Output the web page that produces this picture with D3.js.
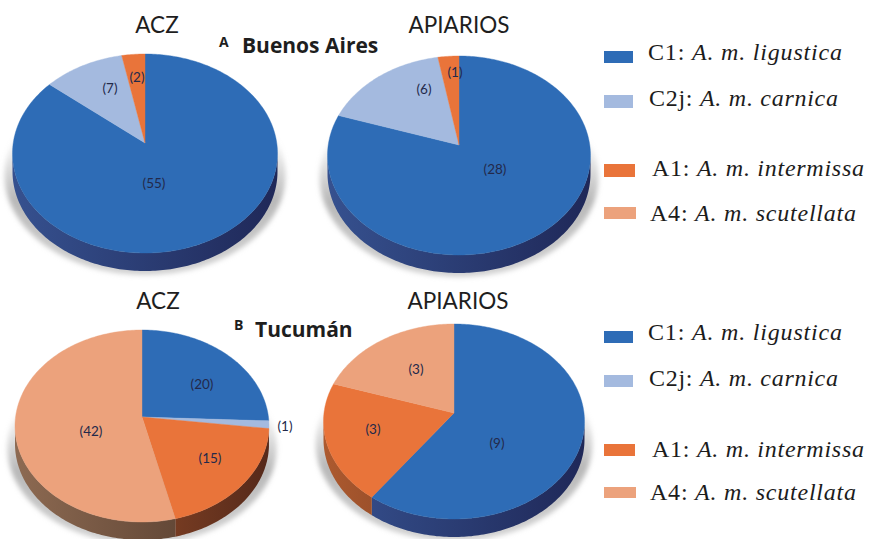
<!DOCTYPE html>
<html>
<head>
<meta charset="utf-8">
<script src="https://cdnjs.cloudflare.com/ajax/libs/d3/7.8.5/d3.min.js"></script>
<style>
  html, body { margin: 0; padding: 0; background: #fff; }
  svg { display: block; }
</style>
</head>
<body>
<svg id="chart" width="870" height="539"></svg>
<script>
// Mitochondrial lineages of honey bee samples, by province and source.
const lineages = ["C1", "C2j", "A1", "A4"];
const subspecies = ["A. m. ligustica", "A. m. carnica", "A. m. intermissa", "A. m. scutellata"];
const topColors = ["#2e6cb6", "#a4badf", "#e9743a", "#eca27c"];
const sideLight = ["#36518f", "#6e80a6", "#ad5a2f", "#8d6a52"];
const sideDark = ["#1f2858", "#46557c", "#55291a", "#4c3528"];

const buenosAiresAcz = [55, 7, 2, 0];
const buenosAiresApiarios = [28, 6, 1, 0];
const tucumanAcz = [20, 1, 15, 42];
const tucumanApiarios = [9, 0, 3, 3];

// Apex, half width and top/bottom reach of each tilted disc, plus label offsets from the apex.
const panels = [
  { title: "ACZ", values: buenosAiresAcz, ax: 145, ay: 143, hw: 132.5, up: 89, down: 110, titleX: 157, titleY: 33,
    labels: [[9, 40], [-35, -55], [-8, -66], null] },
  { title: "APIARIOS", values: buenosAiresApiarios, ax: 459, ay: 145, hw: 131.5, up: 89, down: 110, titleX: 459, titleY: 33,
    labels: [[36, 24], [-35, -56], [-4, -73], null] },
  { title: "ACZ", values: tucumanAcz, ax: 142, ay: 417, hw: 127, up: 87, down: 105, titleX: 158, titleY: 309,
    labels: [[60, -33], [143, 9], [68, 41], [-51, 14]] },
  { title: "APIARIOS", values: tucumanApiarios, ax: 454, ay: 413, hw: 130.5, up: 89, down: 106, titleX: 458, titleY: 309,
    labels: [[43, 30], null, [-81, 16], [-38, -44]] }
];

const headings = [
  { letter: "A", name: "Buenos Aires", letterX: 219, letterY: 47, nameX: 242, y: 53 },
  { letter: "B", name: "Tucumán", letterX: 234, letterY: 330, nameX: 255, y: 337 }
];

// Legend rows: swatch left, top, width, height; text left and baseline; text width.
const legendRows = [
  [[604, 51, 29, 12, 648, 60, 194], [604, 95, 29, 13, 649, 106, 189], [604, 164, 31, 13, 652, 176, 212], [604, 207, 32, 12, 650, 221, 206]],
  [[604, 331, 29, 12, 648, 340, 194], [604, 375, 29, 12, 649, 386, 189], [604, 444, 31, 12, 652, 457, 212], [604, 487, 32, 11, 650, 500, 206]]
];

const color = d3.scaleOrdinal().domain(lineages).range(topColors);
const svg = d3.select("#chart");
const defs = svg.append("defs");

defs.append("filter").attr("id", "soft")
  .attr("x", "-15%").attr("y", "-15%").attr("width", "130%").attr("height", "130%")
  .append("feGaussianBlur").attr("stdDeviation", 2.5);

const pieLayout = d3.pie().sort(null).value(d => d);
const toDeg = 180 / Math.PI;
const depth = 18;

panels.forEach((p, pi) => {
  // Perspective constant and radii from the measured top and bottom reach.
  const k = (p.down - p.up) / (p.down + p.up);
  const ry = p.up * (1 + k);
  const rx = p.hw * Math.sqrt(1 - k * k);
  const project = deg => {
    const a = deg / toDeg, u = Math.sin(a), v = Math.cos(a), s = 1 / (1 + k * v);
    return [p.ax + rx * u * s, p.ay - ry * v * s];
  };
  const sweep = (a0, a1) => {
    const n = Math.max(2, Math.ceil(Math.abs(a1 - a0)));
    return d3.range(n + 1).map(i => project(a0 + (a1 - a0) * i / n));
  };
  const line = d3.line();
  const g = svg.append("g");

  // Soft grey cast shadow that fades out towards the top of the disc.
  const shadowId = "shadow" + pi;
  const sg = defs.append("linearGradient").attr("id", shadowId)
    .attr("gradientUnits", "objectBoundingBox")
    .attr("x1", 0).attr("x2", 0).attr("y1", 0).attr("y2", 1);
  sg.append("stop").attr("offset", 0.3).attr("stop-color", "#b4b4b4").attr("stop-opacity", 0);
  sg.append("stop").attr("offset", 0.62).attr("stop-color", "#b0b0b0").attr("stop-opacity", 0.9);
  sg.append("stop").attr("offset", 1).attr("stop-color", "#c4c4c4").attr("stop-opacity", 0.75);
  g.append("path")
    .attr("d", line(sweep(0, 360)) + "Z")
    .attr("fill", `url(#${shadowId})`)
    .attr("filter", "url(#soft)")
    .attr("transform", `translate(${p.ax},${p.ay + 22}) scale(1.06,1.0) translate(${-p.ax},${-p.ay})`);

  const slices = pieLayout(p.values);

  // Visible rim: the front arc between the two silhouette tangents.
  const front0 = Math.acos(-k) * toDeg, front1 = 360 - front0;
  slices.forEach((s, i) => {
    const a0 = Math.max(s.startAngle * toDeg, front0), a1 = Math.min(s.endAngle * toDeg, front1);
    if (s.value === 0 || a1 <= a0) return;
    const id = `rim${pi}-${i}`;
    const lg = defs.append("linearGradient").attr("id", id)
      .attr("gradientUnits", "userSpaceOnUse")
      .attr("x1", p.ax - p.hw).attr("x2", p.ax + p.hw).attr("y1", 0).attr("y2", 0);
    lg.append("stop").attr("offset", 0).attr("stop-color", sideLight[i]);
    lg.append("stop").attr("offset", 1).attr("stop-color", sideDark[i]);
    const upper = sweep(a0, a1);
    const lower = upper.map(q => [q[0], q[1] + depth]).reverse();
    g.append("path").attr("d", line(upper.concat(lower)) + "Z").attr("fill", `url(#${id})`);
  });

  // Top face.
  slices.forEach((s, i) => {
    if (s.value === 0) return;
    const rim = sweep(s.startAngle * toDeg, s.endAngle * toDeg);
    g.append("path")
      .attr("d", line([[p.ax, p.ay]].concat(rim)) + "Z")
      .attr("fill", color(lineages[i]))
      .attr("stroke", color(lineages[i])).attr("stroke-width", 0.4);
  });

  // Counts in brackets.
  slices.forEach((s, i) => {
    if (s.value === 0 || !p.labels[i]) return;
    g.append("text")
      .attr("x", p.ax + p.labels[i][0]).attr("y", p.ay + p.labels[i][1])
      .attr("dy", "0.35em").attr("text-anchor", "middle")
      .attr("font-family", "Lato, sans-serif").attr("font-size", 13.5)
      .attr("fill", "#23294a")
      .text(`(${s.value})`);
  });

  svg.append("text")
    .attr("x", p.titleX).attr("y", p.titleY).attr("text-anchor", "middle")
    .attr("font-family", "Lato, sans-serif").attr("font-size", 22.5)
    .attr("fill", "#1e1e1e").text(p.title);
});

headings.forEach(h => {
  svg.append("text").attr("x", h.letterX).attr("y", h.letterY)
    .attr("font-family", "'Open Sans', sans-serif").attr("font-weight", 700).attr("font-size", 14)
    .attr("fill", "#1e1e1e").text(h.letter);
  svg.append("text").attr("x", h.nameX).attr("y", h.y)
    .attr("font-family", "'Open Sans', sans-serif").attr("font-weight", 700).attr("font-size", 21)
    .attr("fill", "#1e1e1e").text(h.name);
});

legendRows.forEach(rows => {
  rows.forEach((r, i) => {
    svg.append("rect").attr("x", r[0]).attr("y", r[1]).attr("width", r[2]).attr("height", r[3])
      .attr("fill", color(lineages[i]));
    const t = svg.append("text").attr("x", r[4]).attr("y", r[5])
      .attr("font-family", "'Liberation Serif', serif").attr("font-size", 24)
      .attr("fill", "#1c1c1c")
      .attr("textLength", r[6]).attr("lengthAdjust", "spacing");
    t.append("tspan").text(lineages[i] + ": ");
    t.append("tspan").attr("font-style", "italic").text(subspecies[i]);
  });
});
</script>
</body>
</html>
